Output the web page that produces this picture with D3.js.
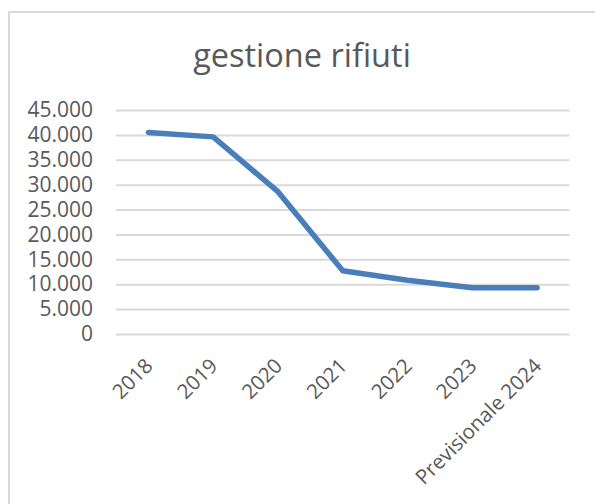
<!DOCTYPE html>
<html lang="it">

<head>
    <meta charset="UTF-8">
    <title>gestione rifiuti</title>
    <script src="https://cdn.jsdelivr.net/npm/d3@7"></script>
    <style>
        body {
            margin: 0;
            background: #fff;
        }

        svg {
            display: block;
            font-family: "Open Sans", sans-serif;
        }
    </style>
</head>

<body>
    <script>
        'use strict';

        // dati
        var categories = ['2018', '2019', '2020', '2021', '2022', '2023', 'Previsionale 2024'];
        var values = [40500, 39600, 28600, 12700, 10800, 9300, 9300];
        var yTicks = [0, 5000, 10000, 15000, 20000, 25000, 30000, 35000, 40000, 45000];
        var title = 'gestione rifiuti';

        var w = 595,
            h = 504;
        var pLeft = 116,
            pRight = 569.5,
            pTop = 110,
            pBottom = 334;

        var it = d3.formatLocale({
            decimal: ',',
            thousands: '.',
            grouping: [3],
            currency: ['', ' €']
        });
        var fmt = it.format(',d');

        var osvg = d3.select('body')
            .append('svg')
            .attr('width', w)
            .attr('height', h);

        // bordo del grafico (solo sinistra e sopra sono visibili)
        osvg.append('path')
            .attr('d', 'M9,' + h + 'V12H' + w)
            .attr('fill', 'none')
            .attr('stroke', '#d9d9d9')
            .attr('stroke-width', 2);

        osvg.append('text')
            .attr('x', 302)
            .attr('y', 67)
            .attr('text-anchor', 'middle')
            .style('font-size', '32.5px')
            .style('fill', '#595959')
            .text(title);

        var xsc = d3.scalePoint()
            .domain(categories)
            .range([pLeft, pRight])
            .padding(0.5);

        var ysc = d3.scaleLinear()
            .domain([0, 45000])
            .range([pBottom, pTop]);

        // griglia
        var grid = osvg.append('g')
            .attr('transform', 'translate(' + pLeft + ',0)')
            .call(d3.axisLeft(ysc).tickValues(yTicks).tickSize(-(pRight - pLeft)).tickFormat(''));
        grid.select('.domain').remove();
        grid.selectAll('line')
            .attr('stroke', '#d9d9d9')
            .attr('stroke-width', 2);

        // asse y
        var axL = osvg.append('g')
            .attr('transform', 'translate(' + pLeft + ',0)')
            .call(d3.axisLeft(ysc).tickValues(yTicks).tickSize(0).tickPadding(23).tickFormat(fmt));
        axL.select('.domain').remove();
        axL.selectAll('text')
            .style('font-family', '"Open Sans", sans-serif')
            .style('font-size', '21px')
            .attr('fill', '#595959');

        // asse x
        var axB = osvg.append('g')
            .attr('transform', 'translate(0,' + pBottom + ')')
            .call(d3.axisBottom(xsc).tickSize(0).tickPadding(0));
        axB.select('.domain').remove();
        axB.selectAll('text')
            .style('font-family', '"Open Sans", sans-serif')
            .style('font-size', '20.5px')
            .attr('fill', '#595959')
            .attr('text-anchor', 'end')
            .attr('dy', '0.7em')
            .attr('transform', 'translate(-5,23) rotate(-45)');

        var line = d3.line()
            .x(function(d, i) {
                return xsc(categories[i]);
            })
            .y(function(d) {
                return ysc(d);
            });

        osvg.append('path')
            .datum(values)
            .attr('d', line)
            .attr('fill', 'none')
            .attr('stroke', '#4a7ebb')
            .attr('stroke-width', 5.5)
            .attr('stroke-linecap', 'round')
            .attr('stroke-linejoin', 'round');
    </script>
</body>

</html>
